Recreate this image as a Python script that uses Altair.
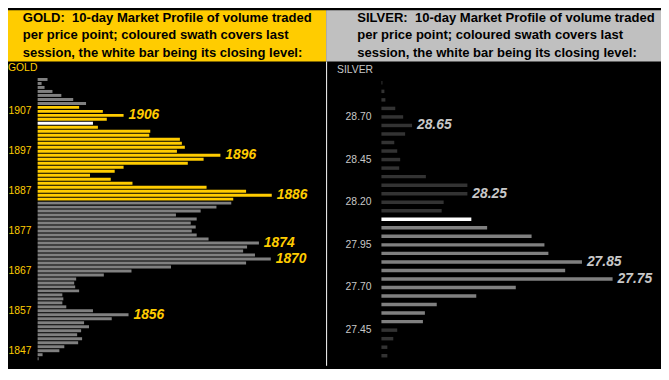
import altair as alt
import pandas as pd

# ---------------- data ----------------
gold_prices = [1915, 1914, 1913, 1912, 1911, 1910, 1909, 1908, 1907, 1906,
               1905, 1904, 1903, 1902, 1901, 1900, 1899, 1898, 1897, 1896,
               1895, 1894, 1893, 1892, 1891, 1890, 1889, 1888, 1887, 1886,
               1885, 1884, 1883, 1882, 1881, 1880, 1879, 1878, 1877, 1876,
               1875, 1874, 1873, 1872, 1871, 1870, 1869, 1868, 1867, 1866,
               1865, 1864, 1863, 1862, 1861, 1860, 1859, 1858, 1857, 1856,
               1855, 1854, 1853, 1852, 1851, 1850, 1849, 1848, 1847, 1846,
               1845]
gold_volumes = [10, 4, 7, 15, 24, 36, 49, 42, 66, 87,
                70, 56, 61, 114, 113, 144, 146, 149, 141, 185,
                168, 152, 87, 78, 53, 74, 96, 171, 211, 237,
                198, 196, 181, 165, 140, 161, 155, 160, 156, 161,
                173, 224, 212, 208, 220, 236, 211, 135, 95, 67,
                39, 37, 38, 42, 25, 26, 25, 29, 56, 92,
                75, 47, 52, 44, 40, 45, 41, 27, 22, 5,
                1]
gold_session = (["prior"] * 7 + ["last"] * 4 + ["close"] + ["last"] * 19
                + ["prior"] * 40)
gold_ticks = [1907, 1897, 1887, 1877, 1867, 1857, 1847]
gold_callouts = [1906, 1896, 1886, 1874, 1870, 1856]

silver_prices = [28.90, 28.85, 28.80, 28.75, 28.70, 28.65, 28.60, 28.55,
                 28.50, 28.45, 28.40, 28.35, 28.30, 28.25, 28.20, 28.15,
                 28.10, 28.05, 28.00, 27.95, 27.90, 27.85, 27.80, 27.75,
                 27.70, 27.65, 27.60, 27.55, 27.50, 27.45, 27.40, 27.35,
                 27.30]
silver_volumes = [1, 3, 4, 14, 22, 31, 24, 13,
                  16, 19, 18, 45, 87, 87, 63, 61,
                  91, 107, 152, 165, 169, 203, 186, 234,
                  136, 96, 56, 44, 42, 16, 12, 6,
                  6]
silver_session = ["prior"] * 16 + ["close"] + ["last"] * 12 + ["prior"] * 4
silver_ticks = [28.70, 28.45, 28.20, 27.95, 27.70, 27.45]
silver_callouts = [28.65, 28.25, 27.85, 27.75]

gold_title = ["GOLD:\u00a0 10-day Market Profile of volume traded",
              "per price point; coloured swath covers last",
              "session, the white bar being its closing level:"]
silver_title = ["SILVER:\u00a0 10-day Market Profile of volume traded",
                "per price point; coloured swath covers last",
                "session, the white bar being its closing level:"]

# ---------------- layout ----------------
W_G, W_S, H = 322, 339, 360
BAND = 52
FONT = "Liberation Sans"
GOLD = "#FFCC00"
SILVER_TXT = "#C8C8C8"

one = pd.DataFrame({"k": [0]})


def panel(prices, vols, sess, ticks, callouts, titles, name, width,
          ydom, xdom, colors, bar_size, label_color, title_bg, title_x,
          tick_x, tick_align, tick_fmt, name_x, name_y, extra=None):
    df = pd.DataFrame({"price": prices, "vol": vols, "session": sess})
    tdf = pd.DataFrame({"price": ticks})
    cdf = df[df["price"].round(2).isin([round(c, 2) for c in callouts])]
    ys = alt.Scale(domain=ydom, nice=False, zero=False)
    xs = alt.Scale(domain=xdom, nice=False, zero=False)

    bars = alt.Chart(df).mark_bar(orient="horizontal", size=bar_size).encode(
        y=alt.Y("price:Q", scale=ys, axis=None),
        x=alt.X("vol:Q", scale=xs, axis=None),
        x2=alt.datum(0),
        color=alt.Color("session:N",
                        scale=alt.Scale(domain=["prior", "last", "close"],
                                        range=colors),
                        legend=None),
    )
    band = alt.Chart(one).mark_rect(color=title_bg).encode(
        x=alt.value(0), x2=alt.value(width), y=alt.value(0), y2=alt.value(BAND)
    )
    layers = [bars, band]
    for line, yy in zip(titles, [8, 25.5, 43]):
        layers.append(
            alt.Chart(one).mark_text(
                text=line, align="left", baseline="middle", font=FONT,
                fontSize=13.2, fontWeight="bold", color="black"
            ).encode(x=alt.value(title_x), y=alt.value(yy))
        )
    layers.append(
        alt.Chart(tdf).mark_text(
            align=tick_align, baseline="middle", font=FONT, fontSize=10.5,
            color=label_color
        ).encode(
            y=alt.Y("price:Q", scale=ys, axis=None),
            x=alt.value(tick_x),
            text=alt.Text("price:Q", format=tick_fmt),
        )
    )
    layers.append(
        alt.Chart(one).mark_text(
            text=name, align="left", baseline="middle", font=FONT,
            fontSize=10.5, color=label_color
        ).encode(x=alt.value(name_x), y=alt.value(name_y))
    )
    layers.append(
        alt.Chart(cdf).mark_text(
            align="left", baseline="middle", dx=5, font=FONT, fontSize=14,
            fontWeight="bold", fontStyle="italic", color=label_color
        ).encode(
            y=alt.Y("price:Q", scale=ys, axis=None),
            x=alt.X("vol:Q", scale=xs, axis=None),
            text=alt.Text("price:Q", format=tick_fmt),
        )
    )
    if extra is not None:
        layers.append(extra)
    return alt.layer(*layers).properties(width=width, height=H)


gold = panel(gold_prices, gold_volumes, gold_session, gold_ticks,
             gold_callouts, gold_title, "GOLD", W_G,
             [1844.45, 1931.13], [-30, W_G - 30],
             ["#808080", GOLD, "#FFFFFF"], 3, GOLD, GOLD, 15,
             0.5, "left", "d", 0, 59)

sep = alt.Chart(one).mark_rule(color="white", strokeWidth=1).encode(
    x=alt.value(0.5), y=alt.value(BAND), y2=alt.value(H)
)

silver = panel(silver_prices, silver_volumes, silver_session, silver_ticks,
               silver_callouts, silver_title, "SILVER", W_S,
               [27.2698, 29.2968], [-56, W_S - 56],
               ["#333333", "#808080", "#FFFFFF"], 3.5, SILVER_TXT, "#C0C0C0",
               31.5, 46, "right", ".2f", 11, 61, extra=sep)

chart = alt.hconcat(gold, silver, spacing=0, bounds="flush").resolve_scale(
    color="independent", x="independent", y="independent"
).properties(
    padding=0, background="black"
).configure_view(stroke=None, fill="black")

chart.save("out.html", embed_options={"renderer": "svg", "actions": False})
